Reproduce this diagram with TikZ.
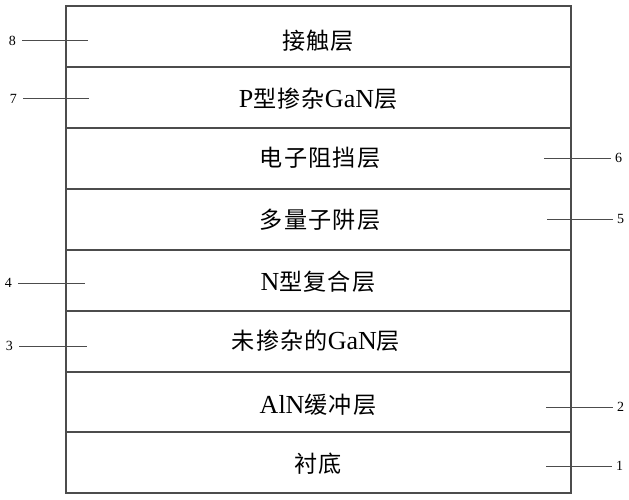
\documentclass[tikz,border=0pt]{standalone}
\usepackage{fontspec}
\setmainfont{Liberation Serif}
\newfontfamily\cjk[LetterSpace=5,Scale=0.89]{Noto Sans CJK SC}
\begin{document}
\begin{tikzpicture}[x=1pt,y=-1pt,
  edge/.style={draw=black!70,line width=1.3pt},
  lead/.style={draw=black!70,line width=1pt},
  layertext/.style={font=\fontsize{26}{28}\selectfont,inner sep=0pt},
  num/.style={font=\fontsize{14}{16}\selectfont,inner sep=0pt}]
\useasboundingbox (0,0) rectangle (629,500);
% layers
\draw[edge] (66,6) rectangle (571,493);
\foreach \y in {67,128,189,250,311,372,432}{\draw[edge] (66,\y) -- (571,\y);}
% texts
\node[layertext] (t8) at (318,41) {\cjk 接触层};
\node[layertext] (t7) at (318,99) {P\cjk 型掺杂\rmfamily GaN\cjk 层};
\node[layertext] (t6) at (320,158) {\cjk 电子阻挡层};
\node[layertext] (t5) at (320,220) {\cjk 多量子阱层};
\node[layertext] (t4) at (318,282) {N\cjk 型复合层};
\node[layertext] (t3) at (316,341) {\cjk 未掺杂的\rmfamily GaN\cjk 层};
\node[layertext] (t2) at (318,405) {AlN\cjk 缓冲层};
\node[layertext] (t1) at (318,464) {\cjk 衬底};
% leaders
\coordinate (e8) at (88,41); \node[num,anchor=east] (n8) at (16,41) {8};
\coordinate (e7) at (89,99); \node[num,anchor=east] (n7) at (17,99) {7};
\coordinate (e4) at (85,283); \node[num,anchor=east] (n4) at (12,283) {4};
\coordinate (e3) at (87,346); \node[num,anchor=east] (n3) at (13,346) {3};
\coordinate (e6) at (544,158); \node[num,anchor=west] (n6) at (615,158) {6};
\coordinate (e5) at (547,219); \node[num,anchor=west] (n5) at (617,219) {5};
\coordinate (e2) at (546,407); \node[num,anchor=west] (n2) at (617,407) {2};
\coordinate (e1) at (546,466); \node[num,anchor=west] (n1) at (616,466) {1};
\foreach \i in {8,7,4,3}{\draw[lead] ([xshift=-5pt]n\i.east) ++(11pt,0) -- (e\i);}
\foreach \i in {6,5,2,1}{\draw[lead] (e\i) -- ([xshift=-4pt]n\i.west);}
\end{tikzpicture}
\end{document}
